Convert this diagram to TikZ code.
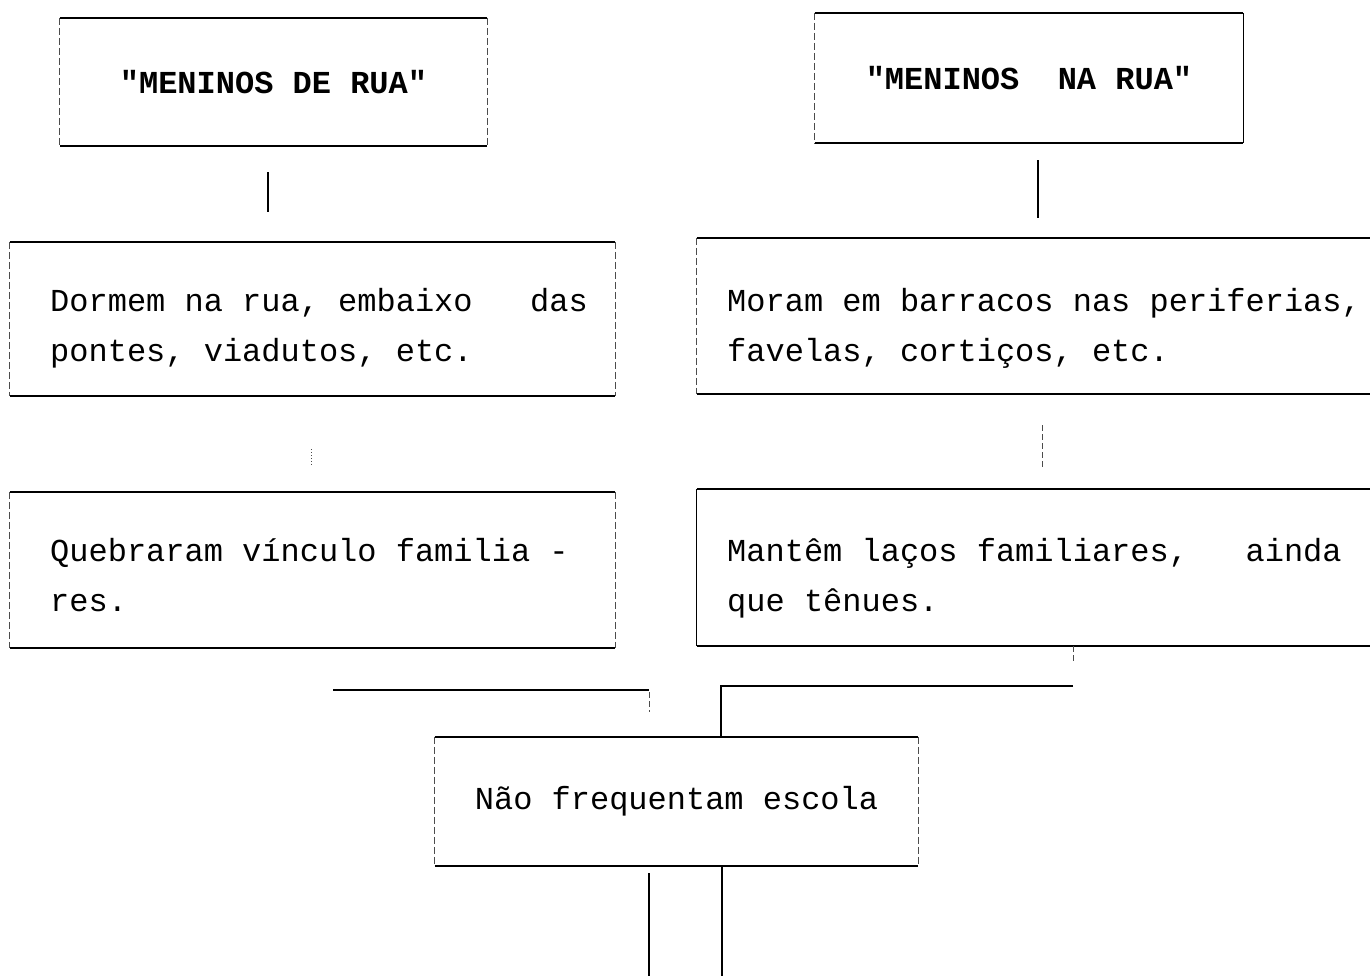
\documentclass[tikz,border=0pt]{standalone}
\usepackage{fontspec}
\setmonofont{Liberation Mono}
\tikzset{
  frame/.style={rectangle, inner sep=0pt, draw=none,
    font=\ttfamily\fontsize{32pt}{50pt}\selectfont},
  head/.style={frame, font=\ttfamily\bfseries\fontsize{32pt}{50pt}\selectfont},
  txt/.style={anchor=north west, inner sep=0pt, align=left,
    font=\ttfamily\fontsize{32pt}{50pt}\selectfont},
  rule/.style={line width=1.8pt},
  wall/.style={line width=1.3pt},
  side/.style={line width=0.8pt, black!70, dash pattern=on 7pt off 3pt},
  link/.style={line width=1.5pt},
  faintlink/.style={line width=0.9pt, black!70, dash pattern=on 6pt off 3pt}
}
\begin{document}
\begin{tikzpicture}[x=1pt, y=-1pt]
  \useasboundingbox (0,0) rectangle (1370,976);
  \clip (0,0) rectangle (1370,976);
  % boxes
  \node[head, minimum width=427pt, minimum height=128pt] (A) at (273.5,82) {"MENINOS DE RUA"};
  \node[head, minimum width=428pt, minimum height=130pt] (B) at (1029,78) {"MENINOS~~NA RUA"};
  \node[frame, minimum width=605pt, minimum height=154pt] (C) at (312.5,319) {};
  \node[frame, minimum width=696pt, minimum height=156pt] (D) at (1045,316) {};
  \node[frame, minimum width=605pt, minimum height=156pt] (E) at (312.5,570) {};
  \node[frame, minimum width=696pt, minimum height=157pt] (F) at (1045,567.5) {};
  \node[frame, minimum width=483pt, minimum height=129pt] (G) at (676.5,801.5) {Não frequentam escola};
  % texts
  \node[txt] (Ct) at (50,276) {\strut Dormem na rua, embaixo~~~das\\\strut pontes, viadutos, etc.};
  \node[txt] (Dt) at (727,276) {\strut Moram em barracos nas periferias,\\\strut favelas, cortiços, etc.};
  \node[txt] (Et) at (50,526) {\strut Quebraram vínculo familia -\\\strut res.};
  \node[txt] (Ft) at (727,526) {\strut Mantêm laços familiares,~~~ainda\\\strut que tênues.};
  % borders
  \foreach \b in {A,B,C,D,E,F,G}
    \draw[rule] (\b.north west) -- (\b.north east) (\b.south west) -- (\b.south east);
  \foreach \b in {A,B,C,D,E,G}
    \draw[side] (\b.north west) -- (\b.south west);
  \foreach \b in {A,C,E,G}
    \draw[side] (\b.north east) -- (\b.south east);
  \draw[wall] (F.north west) -- (F.south west);
  \draw[wall] (B.north east) -- (B.south east);
  % connectors
  \coordinate (xa) at (268,0);
  \coordinate (xb) at (1038,0);
  \coordinate (xc) at (311,0);
  \coordinate (xd) at (1042,0);
  \coordinate (jr) at (1073,686);
  \coordinate (jl) at (721,686);
  \coordinate (kl) at (333,690);
  \coordinate (kr) at (649,690);
  \coordinate (bl) at (649,990);
  \coordinate (br) at (722,990);
  \draw[link, shorten <=26pt, shorten >=30pt] (A.south -| xa) -- (C.north -| xa);
  \draw[link, shorten <=17pt, shorten >=20pt] (B.south -| xb) -- (D.north -| xb);
  \draw[faintlink, dotted, shorten <=53pt, shorten >=28pt] (C.south -| xc) -- (E.north -| xc);
  \draw[faintlink, shorten <=31pt, shorten >=21pt] (D.south -| xd) -- (F.north -| xd);
  \draw[faintlink, shorten >=22pt] (F.south -| jr) -- (jr);
  \draw[link] (jr) -- (jl) -- (G.north -| jl);
  \draw[link] (kl) -- (kr);
  \draw[faintlink, shorten <=2pt, shorten >=25pt] (kr) -- (G.north -| kr);
  \draw[link, shorten <=7pt] (G.south -| bl) -- (bl);
  \draw[link] (G.south -| br) -- (br);
\end{tikzpicture}
\end{document}
